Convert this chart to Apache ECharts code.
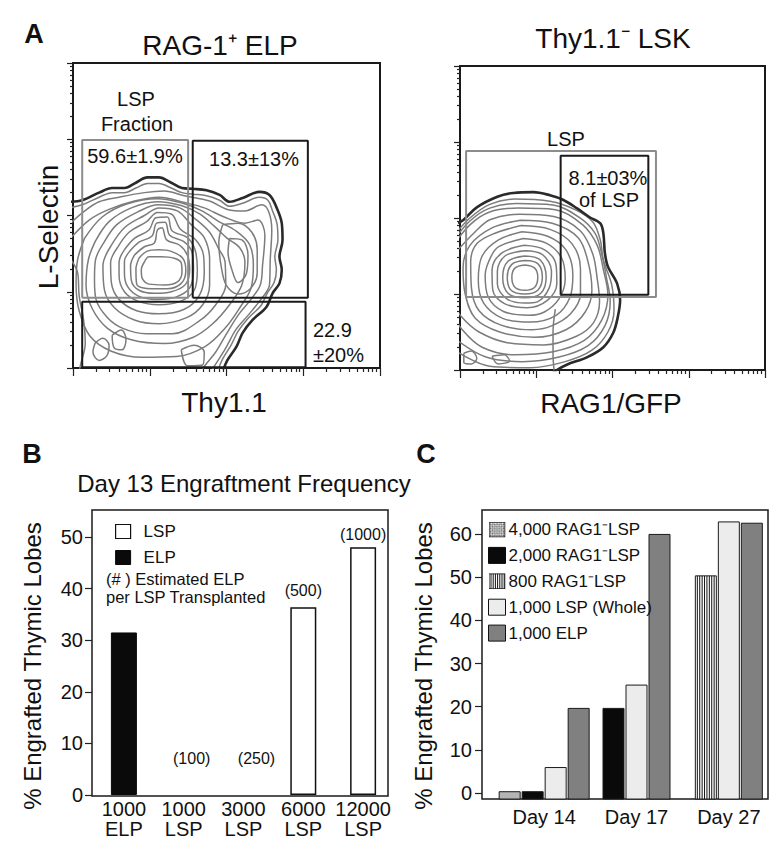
<!DOCTYPE html>
<html><head><meta charset="utf-8">
<script src="https://cdn.jsdelivr.net/npm/echarts@6/dist/echarts.min.js"></script>
<style>html,body{margin:0;padding:0;background:#fff}#c{width:783px;height:854px}</style>
</head><body><div id="c"></div>
<script>
// ================= DATA =================
// Panel A (left): RAG-1+ ELP, axes in log decades (0..4)
const elpEdge = [[-0.05,2.18],[0.12,2.20],[0.34,2.30],[0.51,2.36],[0.67,2.36],[0.82,2.43],[0.97,2.50],[1.12,2.50],[1.28,2.43],[1.42,2.36],[1.56,2.35],[1.74,2.33],[1.91,2.27],[2.04,2.18],[2.21,2.23],[2.43,2.31],[2.56,2.27],[2.65,2.11],[2.72,1.90],[2.73,1.68],[2.69,1.46],[2.72,1.29],[2.69,1.11],[2.60,0.98],[2.52,0.80],[2.34,0.63],[2.21,0.46],[2.13,0.28],[2.01,0.10],[1.95,-0.05]];
const elpOpenContours = [
  [[-0.05,2.10],[0.12,2.14],[0.34,2.24],[0.51,2.30],[0.67,2.30],[0.82,2.36],[0.97,2.42],[1.12,2.42],[1.28,2.36],[1.42,2.30],[1.56,2.28],[1.74,2.26],[1.91,2.20],[2.04,2.12],[2.21,2.16],[2.43,2.24],[2.54,2.20],[2.60,2.06],[2.66,1.88],[2.67,1.68],[2.63,1.46],[2.65,1.29],[2.62,1.12],[2.53,0.98],[2.45,0.82],[2.28,0.65],[2.15,0.48],[2.06,0.30],[1.95,0.12],[1.88,-0.05]],
  [[-0.05,1.88],[0.14,2.05],[0.34,2.18],[0.60,2.24],[0.93,2.30],[1.19,2.32],[1.45,2.26],[1.78,2.19],[2.01,2.08],[2.24,2.06],[2.46,2.14],[2.55,2.05],[2.59,1.81],[2.57,1.42],[2.56,1.09],[2.44,0.89],[2.28,0.69],[2.12,0.50],[1.99,0.26],[1.84,0.02],[1.78,-0.09]],
  [[-0.05,1.68],[0.21,1.94],[0.47,2.08],[0.80,2.19],[1.12,2.24],[1.45,2.17],[1.71,2.10],[1.97,1.98],[2.24,1.90],[2.41,1.94],[2.50,1.74],[2.47,1.35],[2.44,1.09],[2.31,0.89],[2.15,0.69],[1.99,0.43],[1.86,0.21],[1.71,0.02],[1.65,-0.09]],
  [[-0.05,1.45],[0.06,1.25],[0.08,0.95],[0.14,0.62],[0.16,0.32],[0.10,0.05],[0.08,-0.05]]
];
const elpClosedContours = [
  [[0.15,1.70],[0.38,1.98],[0.70,2.15],[1.10,2.22],[1.43,2.16],[1.68,2.06],[1.90,1.92],[2.12,1.80],[2.30,1.62],[2.35,1.35],[2.32,1.05],[2.18,0.80],[1.98,0.52],[1.72,0.28],[1.35,0.15],[0.90,0.14],[0.50,0.22],[0.22,0.42],[0.08,0.75],[0.04,1.10],[0.06,1.42]],
  [[0.29,1.66],[0.47,1.92],[0.76,2.10],[1.10,2.18],[1.41,2.13],[1.65,2.02],[1.84,1.86],[2.01,1.70],[2.17,1.58],[2.24,1.39],[2.20,1.09],[2.04,0.83],[1.82,0.58],[1.56,0.40],[1.19,0.32],[0.76,0.37],[0.45,0.52],[0.25,0.78],[0.17,1.09],[0.20,1.42]],
  [[0.40,1.64],[0.57,1.88],[0.85,2.05],[1.11,2.14],[1.39,2.10],[1.60,1.95],[1.78,1.78],[1.90,1.56],[1.98,1.40],[1.99,1.09],[1.86,0.83],[1.65,0.62],[1.30,0.45],[0.95,0.45],[0.65,0.52],[0.45,0.66],[0.30,0.90],[0.28,1.15],[0.29,1.40]],
  [[0.50,1.61],[0.67,1.84],[0.93,2.00],[1.12,2.10],[1.36,2.06],[1.54,1.88],[1.71,1.71],[1.78,1.42],[1.78,1.09],[1.69,0.83],[1.48,0.66],[1.12,0.58],[0.80,0.63],[0.54,0.79],[0.41,1.02],[0.39,1.34]],
  [[0.58,1.58],[0.73,1.78],[0.96,1.92],[1.10,2.04],[1.28,2.02],[1.40,1.82],[1.60,1.68],[1.70,1.48],[1.71,1.25],[1.65,0.96],[1.45,0.77],[1.12,0.71],[0.83,0.75],[0.60,0.90],[0.50,1.12],[0.49,1.38]],
  [[0.67,1.55],[0.80,1.70],[0.99,1.81],[1.08,1.97],[1.23,1.98],[1.29,1.80],[1.49,1.71],[1.59,1.55],[1.62,1.29],[1.58,1.02],[1.39,0.87],[1.12,0.83],[0.86,0.87],[0.67,1.00],[0.60,1.22],[0.60,1.39]],
  [[0.73,1.52],[0.86,1.65],[1.03,1.73],[1.09,1.90],[1.20,1.91],[1.26,1.74],[1.44,1.66],[1.55,1.52],[1.57,1.29],[1.52,1.05],[1.34,0.93],[1.09,0.90],[0.86,0.94],[0.71,1.07],[0.67,1.25],[0.67,1.40]],
  [[0.80,1.48],[0.93,1.59],[1.06,1.64],[1.10,1.81],[1.16,1.84],[1.22,1.68],[1.39,1.61],[1.49,1.48],[1.52,1.29],[1.46,1.09],[1.28,1.00],[1.06,0.98],[0.86,1.02],[0.76,1.15],[0.75,1.34]],
  [[0.86,1.44],[0.96,1.53],[1.12,1.55],[1.28,1.53],[1.43,1.44],[1.47,1.28],[1.41,1.11],[1.23,1.04],[1.02,1.04],[0.83,1.10],[0.82,1.30]],
  [[0.93,1.39],[0.99,1.46],[1.15,1.46],[1.32,1.44],[1.41,1.38],[1.42,1.26],[1.36,1.13],[1.19,1.09],[0.99,1.10],[0.90,1.18],[0.89,1.29]],
  [[1.95,1.88],[2.15,1.90],[2.33,1.78],[2.40,1.55],[2.40,1.25],[2.32,1.05],[2.15,0.97],[2.00,1.08],[1.93,1.34],[1.90,1.65]],
  [[2.04,1.70],[2.20,1.68],[2.28,1.48],[2.26,1.24],[2.15,1.12],[2.07,1.29],[2.02,1.52]],
  [[0.29,0.33],[0.39,0.39],[0.47,0.30],[0.44,0.16],[0.34,0.10],[0.26,0.21]],
  [[0.51,0.43],[0.63,0.50],[0.69,0.37],[0.64,0.24],[0.54,0.26]],
  [[1.41,0.24],[1.58,0.30],[1.71,0.21],[1.69,0.04],[1.49,0.03]]
];
// gates [x0, y0, x1, y1]
const elpGateLSP = [0.12,0.92,1.50,2.99];
const elpGateThy = [1.56,0.92,3.06,2.98];
const elpGateLow = [0.12,0.01,3.03,0.87];

// Panel A (right): Thy1.1- LSK
const lskEdge = [[-0.05,1.93],[0.04,1.97],[0.22,2.14],[0.49,2.28],[0.70,2.33],[0.96,2.34],[1.18,2.30],[1.35,2.24],[1.53,2.13],[1.70,2.01],[1.84,1.93],[1.88,1.80],[1.90,1.54],[1.94,1.36],[2.06,1.14],[2.10,0.92],[2.07,0.70],[2.01,0.49],[1.88,0.30],[1.67,0.17],[1.40,0.07],[1.27,0],[1.18,-0.07]];
const lskOpenContours = [
  [[-0.07,1.78],[0.13,2.00],[0.39,2.18],[0.72,2.25],[1.18,2.22],[1.51,2.11],[1.74,1.95],[1.84,1.71],[1.88,1.45],[1.99,1.12],[2.02,0.79],[1.94,0.50],[1.73,0.26],[1.38,0.11],[0.92,0.03],[0.39,0.05],[-0.07,0.26]],
  [[-0.10,1.68],[0.13,1.96],[0.39,2.13],[0.74,2.19],[1.22,2.17],[1.56,2.01],[1.77,1.80],[1.86,1.52],[1.92,1.22],[1.97,0.90],[1.90,0.58],[1.68,0.32],[1.30,0.17],[0.82,0.11],[0.34,0.17],[-0.05,0.40]],
  [[-0.13,1.58],[0.13,1.91],[0.39,2.08],[0.76,2.13],[1.25,2.11],[1.61,1.91],[1.80,1.64],[1.88,1.32],[1.94,0.99],[1.86,0.66],[1.63,0.39],[1.22,0.24],[0.72,0.20],[0.29,0.30],[0.03,0.53],[-0.13,0.79]],
  [[-0.10,1.50],[0.20,1.82],[0.40,1.98],[0.78,2.05],[1.23,2.02],[1.58,1.83],[1.74,1.53],[1.80,1.20],[1.83,0.90],[1.75,0.62],[1.52,0.44],[1.10,0.33],[0.62,0.36],[0.25,0.50],[0.02,0.70],[-0.10,0.90]],
  [[1.24,-0.05],[1.22,0.20],[1.22,0.50],[1.25,0.80]]
];
const lskClosedContours = [
  [[0.79,1.97],[1.21,1.93],[1.55,1.74],[1.68,1.42],[1.73,1.05],[1.64,0.76],[1.39,0.53],[0.98,0.43],[0.52,0.50],[0.20,0.68],[0.07,0.99],[0.04,1.34],[0.13,1.64],[0.42,1.87]],
  [[0.80,1.90],[1.18,1.85],[1.47,1.66],[1.58,1.33],[1.58,1.00],[1.45,0.74],[1.20,0.58],[0.95,0.53],[0.54,0.59],[0.25,0.78],[0.15,1.08],[0.14,1.42],[0.22,1.66],[0.46,1.80]],
  [[0.81,1.82],[1.15,1.76],[1.39,1.58],[1.48,1.25],[1.44,0.95],[1.26,0.72],[0.92,0.63],[0.56,0.68],[0.31,0.88],[0.24,1.18],[0.29,1.50],[0.50,1.71]],
  [[0.83,1.73],[1.13,1.67],[1.33,1.48],[1.38,1.20],[1.30,0.94],[1.10,0.76],[0.90,0.72],[0.57,0.77],[0.37,0.96],[0.33,1.25],[0.42,1.52],[0.52,1.63]],
  [[0.84,1.64],[1.11,1.58],[1.26,1.38],[1.27,1.14],[1.15,0.92],[0.88,0.82],[0.59,0.87],[0.43,1.05],[0.42,1.32],[0.55,1.54]],
  [[0.85,1.57],[1.08,1.52],[1.20,1.30],[1.17,1.08],[1.02,0.90],[0.85,0.88],[0.61,0.94],[0.49,1.13],[0.49,1.30],[0.59,1.50]],
  [[0.85,1.50],[1.05,1.45],[1.13,1.22],[1.06,1.01],[0.85,0.95],[0.63,1.01],[0.56,1.22],[0.63,1.43]],
  [[0.85,1.44],[1.02,1.40],[1.08,1.22],[1.02,1.05],[0.85,1.00],[0.67,1.05],[0.62,1.22],[0.68,1.39]],
  [[0.85,1.38],[0.98,1.34],[1.02,1.22],[0.98,1.09],[0.85,1.05],[0.72,1.09],[0.68,1.22],[0.72,1.34]],
  [[0.05,0.22],[0.15,0.25],[0.22,0.15],[0.15,0.08],[0.05,0.10]],
  [[0.42,0.18],[0.58,0.20],[0.65,0.12],[0.50,0.08]]
];
const lskGateLSP = [0.08,0.96,2.57,2.88];
const lskGateRag = [1.32,0.99,2.47,2.82];

// Panel B
const bCategories = ['1000\nELP','1000\nLSP','3000\nLSP','6000\nLSP','12000\nLSP'];
const bELP = [31.5, null, null, null, null];
const bLSP = [null, 0, 0, 36.4, 48.0];
const bEstimated = ['', '(100)', '(250)', '(500)', '(1000)'];

// Panel C
const cDays = ['Day 14','Day 17','Day 27'];
const cNames = ['4,000 RAG1\u207BLSP','2,000 RAG1\u207BLSP','800 RAG1\u207BLSP','1,000 LSP (Whole)','1,000 ELP'];
const c4000 = [0.3, null, null];
const c2000 = [0.3, 19.6, null];
const c800 = [null, null, 50.3];
const cLspWhole = [5.9, 25.0, 62.8];
const cElp = [19.6, 59.9, 62.5];

// ================= LAYOUT / STYLE =================
const FONT = "'Liberation Sans', Arial, Helvetica, sans-serif";
const INK = '#111';
const CONTOUR = '#7c7c7c';
const majorTicks = [0,1,2,3,4];
const minorTicks = [];
for (let d = 0; d < 4; d++) for (let k = 2; k <= 9; k++) minorTicks.push(d + Math.log10(k));

const chart = echarts.init(document.getElementById('c'), null, {renderer: 'svg'});

function closeLoop(l) { return l.concat([l[0]]); }
function rectPath(g) { return [[g[0],g[1]],[g[2],g[1]],[g[2],g[3]],[g[0],g[3]],[g[0],g[1]]]; }

function flowAxes(grid) {
  const xs = [], ys = [];
  [[majorTicks, 8, 6], [minorTicks, 4, 3]].forEach(([vals, lx, ly]) => {
    xs.push({gridIndex: grid, type: 'value', min: 0, max: 4, position: 'bottom',
      axisLine: {show: false}, splitLine: {show: false}, axisLabel: {show: false},
      axisTick: {show: true, length: lx, customValues: vals, lineStyle: {color: '#222', width: 1.2}}});
    ys.push({gridIndex: grid, type: 'value', min: 0, max: 4, position: 'left',
      axisLine: {show: false}, splitLine: {show: false}, axisLabel: {show: false},
      axisTick: {show: true, length: ly, customValues: vals, lineStyle: {color: '#222', width: 1.2}}});
  });
  return {xs, ys};
}

const series = [];
function addContours(axisIdx, edge, openList, closedList) {
  openList.concat(closedList.map(closeLoop)).forEach(line => {
    series.push({type: 'line', xAxisIndex: axisIdx, yAxisIndex: axisIdx, data: line, smooth: 0.35,
      symbol: 'none', silent: true, clip: true, z: 2,
      lineStyle: {color: CONTOUR, width: 1.5}});
  });
  series.push({type: 'line', xAxisIndex: axisIdx, yAxisIndex: axisIdx, data: edge, smooth: 0.35,
    symbol: 'none', silent: true, clip: true, z: 3,
    lineStyle: {color: '#2a2a2a', width: 2.6}});
}
function addGate(axisIdx, g, color) {
  series.push({type: 'line', xAxisIndex: axisIdx, yAxisIndex: axisIdx, data: rectPath(g),
    symbol: 'none', silent: true, clip: false, z: 5, lineStyle: {color: color, width: 2}});
}

const a0 = flowAxes(0), a1 = flowAxes(1);
addContours(0, elpEdge, elpOpenContours, elpClosedContours);
addGate(0, elpGateLSP, '#8c8c8c');
addGate(0, elpGateThy, '#1a1a1a');
addGate(0, elpGateLow, '#1a1a1a');
addContours(2, lskEdge, lskOpenContours, lskClosedContours);
addGate(2, lskGateLSP, '#8c8c8c');
addGate(2, lskGateRag, '#1a1a1a');

// Panel B bars (axis index 4)
const bLabelNudge = [[0,0],[8,-24],[13,-24],[0,-4],[0,0]];
series.push({name: 'ELP', type: 'bar', xAxisIndex: 4, yAxisIndex: 4, data: bELP, barWidth: 26, barGap: '-100%',
  itemStyle: {color: '#0a0a0a', borderColor: '#0a0a0a', borderWidth: 1}, silent: true});
series.push({name: 'LSP', type: 'bar', xAxisIndex: 4, yAxisIndex: 4, barWidth: 26, barGap: '-100%',
  data: bLSP.map((v, i) => ({value: v, label: {offset: bLabelNudge[i]},
    itemStyle: v === 0 ? {borderWidth: 0} : {}})),
  itemStyle: {color: '#ffffff', borderColor: '#111', borderWidth: 1.5}, silent: true,
  label: {show: true, position: 'top', distance: 5, fontSize: 16, fontFamily: FONT, color: INK,
    formatter: p => bEstimated[p.dataIndex]}});

// Panel C bars (axis index 5), custom packed groups
const C_STEP = 23, C_BAR = 21, C_FLOOR = -1.4;
const cValues = [c4000, c2000, c800, cLspWhole, cElp];
const cFill = ['#b4b4b4', '#0a0a0a', '#ffffff', '#ececec', '#808080'];
const cPresent = cDays.map((_, d) => cValues.map((arr, s) => arr[d] != null ? s : -1).filter(s => s >= 0));
cValues.forEach((arr, s) => {
  const data = [];
  arr.forEach((v, d) => { if (v != null) data.push([d, v, cPresent[d].indexOf(s), cPresent[d].length]); });
  series.push({name: cNames[s], type: 'custom', xAxisIndex: 5, yAxisIndex: 5, clip: false, silent: true, z: 3,
    itemStyle: {color: cFill[s]}, data: data,
    renderItem: (params, api) => {
      const d = api.value(0), v = api.value(1), k = api.value(2), n = api.value(3);
      const cx = api.coord([d, 0])[0] + (k - (n - 1) / 2) * C_STEP;
      const yTop = api.coord([d, v])[1];
      const yBot = api.coord([d, C_FLOOR])[1];
      const x0 = cx - C_BAR / 2;
      const children = [{type: 'rect', shape: {x: x0, y: yTop, width: C_BAR, height: yBot - yTop},
        style: {fill: cFill[s], stroke: '#1a1a1a', lineWidth: 1}}];
      if (s === 2) {
        for (let x = x0 + 2; x < x0 + C_BAR - 1; x += 2.4) {
          children.push({type: 'line', shape: {x1: x, y1: yTop, x2: x, y2: yBot}, style: {stroke: '#111', lineWidth: 1}});
        }
      }
      return {type: 'group', children};
    }});
});

// legend icons
function svgIcon(svg) { return 'image://data:image/svg+xml;charset=utf-8,' + encodeURIComponent(svg); }
const iconCross = svgIcon("<svg xmlns='http://www.w3.org/2000/svg' width='17' height='16'><defs><pattern id='p' width='3' height='3' patternUnits='userSpaceOnUse' patternTransform='rotate(45)'><rect width='3' height='3' fill='#fff'/><rect width='1.5' height='1.5' fill='#555'/><rect x='1.5' y='1.5' width='1.5' height='1.5' fill='#555'/></pattern></defs><rect x='0.5' y='0.5' width='16' height='15' fill='url(#p)' stroke='#111'/></svg>");
let stripes = '';
for (let x = 2.5; x < 16; x += 2.2) stripes += "<line x1='" + x + "' y1='0.5' x2='" + x + "' y2='15.5' stroke='#111' stroke-width='1'/>";
const iconStripe = svgIcon("<svg xmlns='http://www.w3.org/2000/svg' width='17' height='16'><rect x='0.5' y='0.5' width='16' height='15' fill='#fff' stroke='#111'/>" + stripes + "</svg>");

function txt(text, x, y, size, opts) {
  opts = opts || {};
  return Object.assign({type: 'text', x: x, y: y, silent: true, z: 10,
    style: {text: text, fontSize: size, fontFamily: FONT, fontWeight: opts.bold ? 'bold' : 'normal', fill: INK,
      align: opts.align || 'center', verticalAlign: 'middle', textAlign: opts.align || 'center', textVerticalAlign: 'middle',
      lineHeight: opts.lineHeight}}, opts.rot ? {rotation: opts.rot} : {});
}

const option = {
  backgroundColor: '#fff',
  animation: false,
  grid: [
    {left: 73, top: 63, width: 307, height: 305, show: true, borderColor: '#1a1a1a', borderWidth: 2, backgroundColor: 'transparent'},
    {left: 460, top: 66, width: 305, height: 304, show: true, borderColor: '#1a1a1a', borderWidth: 2, backgroundColor: 'transparent'},
    {left: 94, top: 537, width: 299, height: 258},
    {left: 498, top: 534, width: 277, height: 259}
  ],
  xAxis: [a0.xs[0], a0.xs[1], a1.xs[0], a1.xs[1],
    {gridIndex: 2, type: 'category', data: bCategories, axisLine: {show: false}, axisTick: {show: false},
      axisLabel: {fontSize: 20, lineHeight: 20, margin: 4, color: INK, fontFamily: FONT, interval: 0}},
    {gridIndex: 3, type: 'category', data: cDays, axisLine: {show: false}, axisTick: {show: false},
      axisLabel: {fontSize: 20, margin: 14, color: INK, fontFamily: FONT, interval: 0}}
  ],
  yAxis: [a0.ys[0], a0.ys[1], a1.ys[0], a1.ys[1],
    {gridIndex: 2, type: 'value', min: 0, max: 50, interval: 10, offset: 2, splitLine: {show: false},
      axisLine: {show: false}, axisTick: {show: true, length: 7, lineStyle: {color: '#222', width: 1.2}},
      axisLabel: {fontSize: 20, margin: 9, color: INK, fontFamily: FONT}},
    {gridIndex: 3, type: 'value', min: 0, max: 60, interval: 10, offset: 16, splitLine: {show: false},
      axisLine: {show: false}, axisTick: {show: true, length: 7, lineStyle: {color: '#222', width: 1.2}},
      axisLabel: {fontSize: 20, margin: 10, color: INK, fontFamily: FONT}}
  ],
  legend: [
    {orient: 'vertical', left: 115, top: 523, padding: 0, itemWidth: 15, itemHeight: 14, itemGap: 9,
      textStyle: {fontSize: 17, fontFamily: FONT, color: INK, padding: [0, 0, 0, 8]}, selectedMode: false,
      data: [{name: 'LSP', icon: 'rect', itemStyle: {color: '#fff', borderColor: '#111', borderWidth: 1.2}},
             {name: 'ELP', icon: 'rect', itemStyle: {color: '#0a0a0a', borderColor: '#0a0a0a', borderWidth: 1}}]},
    {orient: 'vertical', left: 488, top: 521, padding: 0, itemWidth: 17, itemHeight: 16, itemGap: 8.9,
      textStyle: {fontSize: 17, fontFamily: FONT, color: INK, padding: [0, 0, 0, -2]}, selectedMode: false,
      data: [{name: cNames[0], icon: iconCross},
             {name: cNames[1], icon: 'rect', itemStyle: {color: '#0a0a0a', borderColor: '#0a0a0a', borderWidth: 1}},
             {name: cNames[2], icon: iconStripe},
             {name: cNames[3], icon: 'rect', itemStyle: {color: '#ececec', borderColor: '#111', borderWidth: 1}},
             {name: cNames[4], icon: 'rect', itemStyle: {color: '#808080', borderColor: '#111', borderWidth: 1}}]}
  ],
  graphic: [
    {type: 'rect', shape: {x: 92, y: 510, width: 296, height: 286}, style: {fill: 'none', stroke: '#1a1a1a', lineWidth: 1.5}, silent: true},
    {type: 'rect', shape: {x: 482, y: 510, width: 286, height: 289}, style: {fill: 'none', stroke: '#1a1a1a', lineWidth: 1.5}, silent: true},
    txt('A', 34, 34, 27, {bold: true}),
    txt('B', 32, 454, 27, {bold: true}),
    txt('C', 426, 454, 27, {bold: true}),
    txt('RAG-1\u207A ELP', 220, 45, 28),
    txt('Thy1.1\u207B LSK', 613, 38, 28),
    txt('L-Selectin', 48, 227, 28, {rot: Math.PI / 2}),
    txt('Thy1.1', 224, 402, 28),
    txt('RAG1/GFP', 611, 403, 28),
    txt('LSP', 136, 99, 20),
    txt('Fraction', 137, 124, 20),
    txt('59.6\u00B11.9%', 135, 156, 20),
    txt('13.3\u00B113%', 254, 159, 20),
    txt('22.9', 313, 330, 20, {align: 'left'}),
    txt('\u00B120%', 313, 355, 20, {align: 'left'}),
    txt('LSP', 566, 139, 20),
    txt('8.1\u00B103%', 608, 178, 20),
    txt('of LSP', 609, 200, 20),
    txt('Day 13 Engraftment Frequency', 244, 483, 24),
    txt('% Engrafted Thymic Lobes', 32, 666, 24, {rot: Math.PI / 2}),
    txt('% Engrafted Thymic Lobes', 423, 666, 24, {rot: Math.PI / 2}),
    txt('(# ) Estimated ELP\nper LSP Transplanted', 106, 588, 16.5, {align: 'left', lineHeight: 18})
  ],
  series: series
};
chart.setOption(option);
</script>
</body></html>
